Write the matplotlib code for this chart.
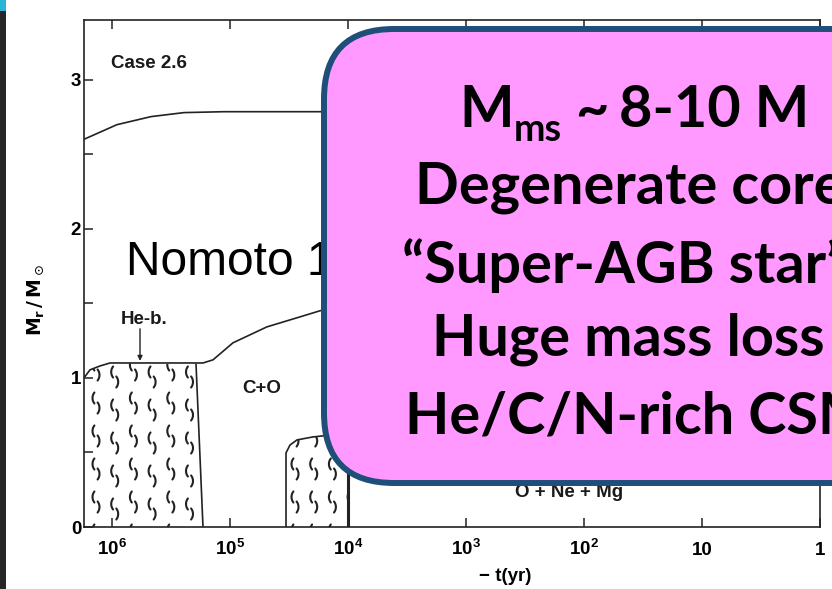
import matplotlib
matplotlib.use('Agg')
import matplotlib.pyplot as plt
import numpy as np
from matplotlib.patches import Polygon, FancyBboxPatch, Rectangle
from matplotlib.collections import LineCollection
from matplotlib.transforms import IdentityTransform
from matplotlib.ticker import NullLocator

plt.rcParams['font.family'] = ['Liberation Sans', 'DejaVu Sans']

W, H = 832, 589
DPI = 100

# Kippenhahn diagram, Nomoto case 2.6 (log10(-t/yr), Mr/Msun)
outer_logt = np.array([6.241, 5.962, 5.673, 5.393, 5.054, 4.5, 3.5])
outer_m = np.array([2.60, 2.698, 2.752, 2.779, 2.785, 2.785, 2.785])

core_logt = np.array([6.241, 6.19, 6.105, 6.02, 5.291, 5.232, 5.147, 4.978,
                      4.69, 4.41, 4.24, 4.0, 3.5])
core_m = np.array([1.00, 1.054, 1.08, 1.10, 1.10, 1.10, 1.121, 1.235,
                   1.342, 1.409, 1.45, 1.49, 1.52])

# convective He-burning zone
conv1_logt = np.array([6.241, 6.241, 6.19, 6.105, 6.02, 5.291, 5.232])
conv1_m = np.array([0.0, 1.0, 1.054, 1.08, 1.10, 1.09, 0.0])

# convective C-burning core
conv2_logt = np.array([4.528, 4.528, 4.494, 4.435, 4.30, 4.216, 4.1, 4.0, 4.0])
conv2_m = np.array([0.0, 0.497, 0.550, 0.584, 0.604, 0.611, 0.622, 0.63, 0.0])

tick_vals = [1e6, 1e5, 1e4, 1e3, 1e2, 10, 1]
tick_labels = [r'$\mathregular{10^6}$', r'$\mathregular{10^5}$', r'$\mathregular{10^4}$',
               r'$\mathregular{10^3}$', r'$\mathregular{10^2}$', '10', '1']

box_lines = ['Degenerate core', '\u201cSuper-AGB star\u201d', 'Huge mass loss',
             'He/C/N-rich CSM']

INK = '#222222'
SCAN_FS = 13.5


def squiggles(ax, region, x0, y0, dx, dy, shift):
  """Convective 'squiggle' pattern, laid out in figure pixels (y down),
  clipped to a region polygon given in data coordinates."""
  r = 9.0
  t1 = np.radians(np.linspace(142, 218, 9))
  t2 = np.radians(np.linspace(-38, 38, 9))
  segs = []
  for i, cx in enumerate(np.arange(x0, W, dx)):
    off = shift if i % 2 else 0
    for cy in np.arange(y0 + off, H, dy):
      yd = H - cy
      # upper "(" and lower ")"
      segs.append(np.column_stack([cx - 3.5 + r + r * np.cos(t1), yd + 5 + r * np.sin(t1)]))
      segs.append(np.column_stack([cx + 3.5 - r + r * np.cos(t2), yd - 5 + r * np.sin(t2)]))
  lc = LineCollection(segs, colors=INK, linewidths=1.5, transform=IdentityTransform(),
                      capstyle='round')
  ax.add_collection(lc, autolim=False)
  lc.set_clip_path(region)


def main():
  fig = plt.figure(figsize=(W / DPI, H / DPI), dpi=DPI)
  ax = fig.add_axes([84 / W, 62 / H, 736 / W, 507 / H])
  ax.set_xscale('log')
  ax.set_xlim(10 ** 6.241, 1.0)
  ax.set_ylim(0, 3.40)

  # boundaries
  ax.plot(10 ** outer_logt, outer_m, color=INK, lw=1.2)
  ax.plot(10 ** core_logt, core_m, color=INK, lw=1.2)
  ax.plot(10 ** conv1_logt[-2:], conv1_m[-2:], color=INK, lw=1.2)
  ax.plot(10 ** conv2_logt[:-1], conv2_m[:-1], color=INK, lw=1.2)
  ax.plot(10 ** conv2_logt[-2:], conv2_m[-2:], color=INK, lw=2.2)

  # convective zones
  for lt, m, x0, y0, sh in [(conv1_logt, conv1_m, 96, 370, 7),
                            (conv2_logt, conv2_m, 295, 436, 0)]:
    poly = Polygon(np.column_stack([10 ** lt, m]), closed=True, fill=False,
                   edgecolor='none')
    ax.add_patch(poly)
    squiggles(ax, poly, x0, y0, 18.7, 33, sh)

  # labels inside the diagram
  kw = dict(fontsize=SCAN_FS, fontweight='bold', color='#1a1a1a', va='baseline', ha='left')
  ax.text(10 ** 6.012, 3.08, 'Case 2.6', **kw)
  ax.text(10 ** 5.929, 1.362, 'He-b.', **kw)
  ax.text(10 ** 4.901, 0.899, 'C+O', **kw)
  ax.text(10 ** 2.588, 0.201, 'O + Ne + Mg', **kw)
  ax.annotate('', xy=(10 ** 5.766, 1.114), xytext=(10 ** 5.766, 1.329),
              arrowprops=dict(arrowstyle='-|>', lw=1.0, color=INK,
                              mutation_scale=7, shrinkA=0, shrinkB=0))

  # axes styling
  ax.set_xticks(tick_vals, tick_labels)
  ax.xaxis.set_minor_locator(NullLocator())
  ax.set_yticks([0, 1, 2, 3])
  ax.set_yticks([0.5, 1.5, 2.5], minor=True)
  ax.tick_params(axis='x', which='major', direction='in', top=True, bottom=True,
                 length=6.5, width=1.1, color=INK, labelsize=SCAN_FS, pad=20)
  ax.tick_params(axis='y', which='both', direction='in', left=True, right=False,
                 length=6.5, width=1.1, color=INK, labelsize=SCAN_FS, pad=2)
  for lbl in ax.get_xticklabels() + ax.get_yticklabels():
    lbl.set_fontweight('bold')
  for t in ax.xaxis.get_major_ticks():
    t.label1.set_va('baseline')
  for s in ax.spines.values():
    s.set_linewidth(1.2)
    s.set_color(INK)
  ax.set_ylabel(r'$\mathbf{M_r\,/\,M}_\odot$', fontsize=SCAN_FS)
  ax.yaxis.set_label_coords(-0.052, 0.448)
  ax.set_xlabel('\u2212 t(yr)', fontsize=SCAN_FS, fontweight='bold')
  ax.xaxis.set_label_coords(0.572, -0.081)

  # slide overlay in pixel coordinates
  ov = fig.add_axes([0, 0, 1, 1], zorder=5)
  ov.set_xlim(0, W)
  ov.set_ylim(H, 0)
  ov.axis('off')
  ov.patch.set_alpha(0)
  ov.add_patch(Rectangle((0, 0), 6, H, color='#262626', lw=0))
  ov.add_patch(Rectangle((0, 0), 6, 11, color='#2ab5d8', lw=0))
  ov.text(126, 275, 'Nomoto 1984', fontsize=34.5, color='black', va='baseline',
          zorder=1)
  ov.add_patch(FancyBboxPatch((324, 29), 620, 454,
                              boxstyle='round,pad=0,rounding_size=70',
                              fc='#ff99ff', ec='#1f4e79', lw=4.3, zorder=2))
  bk = dict(family=['Lato', 'DejaVu Sans'], weight='bold', fontsize=41.5,
            color='black', va='baseline', ha='left', zorder=3)
  ov.text(459, 127, 'M', **bk)
  ov.text(514, 141, 'ms', **{**bk, 'fontsize': 27})
  ov.text(575, 127, '~', **bk)
  ov.text(619, 127, '8-10 M', **bk)
  for (x, y), line in zip([(415, 204), (402, 283), (432, 356), (405, 434)], box_lines):
    ov.text(x, y, line, **bk)

  fig.savefig('out.png', dpi=DPI)
  plt.close(fig)


if __name__ == '__main__':
  main()
